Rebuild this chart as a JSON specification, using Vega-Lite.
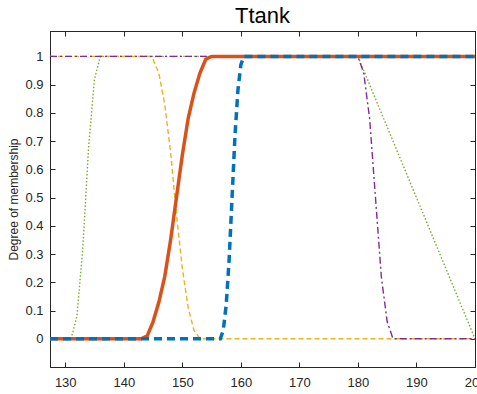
{
  "$schema": "https://vega.github.io/schema/vega-lite/v6.json",
  "width": 425,
  "height": 336,
  "autosize": {"type": "none"},
  "padding": {"left": 50, "top": 31, "right": 2, "bottom": 27},
  "background": "white",
  "title": {
    "text": "Ttank",
    "fontSize": 22,
    "font": "Liberation Sans",
    "fontWeight": "normal",
    "color": "#000000",
    "offset": 3
  },
  "config": {
    "view": {"stroke": "#262626", "strokeWidth": 1},
    "axis": {
      "labelFont": "Liberation Sans",
      "labelFontSize": 13,
      "labelColor": "#262626",
      "titleFont": "Liberation Sans",
      "titleFontSize": 12,
      "titleFontWeight": "normal",
      "titleColor": "#262626",
      "domainColor": "#262626",
      "tickColor": "#262626",
      "tickSize": -5,
      "grid": false,
      "labelOverlap": false,
      "labelFlush": false,
      "labelBound": false
    }
  },
  "data": {
    "values": [
      {"mf": "high", "x": 127.4, "mu": 0},
      {"mf": "high", "x": 156.5, "mu": 0},
      {"mf": "high", "x": 157, "mu": 0.03},
      {"mf": "high", "x": 157.5, "mu": 0.12},
      {"mf": "high", "x": 158, "mu": 0.28},
      {"mf": "high", "x": 158.5, "mu": 0.5},
      {"mf": "high", "x": 159, "mu": 0.72},
      {"mf": "high", "x": 159.5, "mu": 0.88},
      {"mf": "high", "x": 160, "mu": 0.97},
      {"mf": "high", "x": 160.5, "mu": 1},
      {"mf": "high", "x": 200, "mu": 1},

      {"mf": "warm", "x": 127.4, "mu": 0},
      {"mf": "warm", "x": 143, "mu": 0},
      {"mf": "warm", "x": 144, "mu": 0.01},
      {"mf": "warm", "x": 145, "mu": 0.06},
      {"mf": "warm", "x": 146, "mu": 0.13},
      {"mf": "warm", "x": 147, "mu": 0.22},
      {"mf": "warm", "x": 148, "mu": 0.35},
      {"mf": "warm", "x": 149, "mu": 0.5},
      {"mf": "warm", "x": 150, "mu": 0.65},
      {"mf": "warm", "x": 151, "mu": 0.78},
      {"mf": "warm", "x": 152, "mu": 0.87},
      {"mf": "warm", "x": 153, "mu": 0.94},
      {"mf": "warm", "x": 154, "mu": 0.99},
      {"mf": "warm", "x": 155, "mu": 1},
      {"mf": "warm", "x": 200, "mu": 1},

      {"mf": "cold", "x": 127.4, "mu": 1},
      {"mf": "cold", "x": 144.5, "mu": 1},
      {"mf": "cold", "x": 145, "mu": 0.99},
      {"mf": "cold", "x": 146, "mu": 0.94},
      {"mf": "cold", "x": 147, "mu": 0.83},
      {"mf": "cold", "x": 148, "mu": 0.66},
      {"mf": "cold", "x": 149, "mu": 0.44},
      {"mf": "cold", "x": 150, "mu": 0.25},
      {"mf": "cold", "x": 151, "mu": 0.11},
      {"mf": "cold", "x": 152, "mu": 0.03},
      {"mf": "cold", "x": 153, "mu": 0},
      {"mf": "cold", "x": 200, "mu": 0},

      {"mf": "safe", "x": 127.4, "mu": 1},
      {"mf": "safe", "x": 180, "mu": 1},
      {"mf": "safe", "x": 181, "mu": 0.94},
      {"mf": "safe", "x": 182, "mu": 0.78},
      {"mf": "safe", "x": 183, "mu": 0.5},
      {"mf": "safe", "x": 184, "mu": 0.22},
      {"mf": "safe", "x": 185, "mu": 0.06},
      {"mf": "safe", "x": 186, "mu": 0},
      {"mf": "safe", "x": 200, "mu": 0},

      {"mf": "normal", "x": 127.4, "mu": 0},
      {"mf": "normal", "x": 131, "mu": 0},
      {"mf": "normal", "x": 132, "mu": 0.08},
      {"mf": "normal", "x": 133, "mu": 0.32},
      {"mf": "normal", "x": 134, "mu": 0.68},
      {"mf": "normal", "x": 135, "mu": 0.92},
      {"mf": "normal", "x": 136, "mu": 1},
      {"mf": "normal", "x": 180, "mu": 1},
      {"mf": "normal", "x": 200, "mu": 0}
    ]
  },
  "resolve": {"axis": {"x": "independent", "y": "independent"}},
  "layer": [
    {
      "transform": [{"filter": "datum.mf === 'normal'"}],
      "mark": {"type": "line", "color": "#77AC30", "strokeWidth": 1.4, "strokeDash": [1.5, 2], "clip": true},
      "encoding": {
        "x": {
          "field": "x", "type": "quantitative",
          "scale": {"domain": [127.4, 200], "nice": false, "zero": false},
          "axis": {"orient": "bottom", "values": [130, 140, 150, 160, 170, 180, 190, 200], "title": null, "labelPadding": 14}
        },
        "y": {
          "field": "mu", "type": "quantitative",
          "scale": {"domain": [-0.1, 1.09], "nice": false, "zero": false},
          "axis": {
            "orient": "left",
            "values": [0, 0.1, 0.2, 0.3, 0.4, 0.5, 0.6, 0.7, 0.8, 0.9, 1],
            "format": ".1~f",
            "title": "Degree of membership",
            "labelPadding": 12,
            "titlePadding": 4
          }
        }
      }
    },
    {
      "transform": [{"filter": "datum.mf === 'cold'"}],
      "mark": {"type": "line", "color": "#EDB120", "strokeWidth": 1.4, "strokeDash": [5, 3], "clip": true},
      "encoding": {
        "x": {
          "field": "x", "type": "quantitative",
          "axis": {"orient": "top", "values": [130, 140, 150, 160, 170, 180, 190, 200], "labels": false, "title": null}
        },
        "y": {
          "field": "mu", "type": "quantitative",
          "axis": {"orient": "right", "values": [0, 0.1, 0.2, 0.3, 0.4, 0.5, 0.6, 0.7, 0.8, 0.9, 1], "labels": false, "title": null}
        }
      }
    },
    {
      "transform": [{"filter": "datum.mf === 'safe'"}],
      "mark": {"type": "line", "color": "#7E2F8E", "strokeWidth": 1.4, "strokeDash": [7, 3, 2, 3], "clip": true},
      "encoding": {
        "x": {"field": "x", "type": "quantitative", "axis": null},
        "y": {"field": "mu", "type": "quantitative", "axis": null}
      }
    },
    {
      "transform": [{"filter": "datum.mf === 'warm'"}],
      "mark": {"type": "line", "color": "#D95319", "strokeWidth": 3.5, "clip": true},
      "encoding": {
        "x": {"field": "x", "type": "quantitative", "axis": null},
        "y": {"field": "mu", "type": "quantitative", "axis": null}
      }
    },
    {
      "transform": [{"filter": "datum.mf === 'high'"}],
      "mark": {"type": "line", "color": "#0072BD", "strokeWidth": 3.5, "strokeDash": [8, 5], "clip": true},
      "encoding": {
        "x": {"field": "x", "type": "quantitative", "axis": null},
        "y": {"field": "mu", "type": "quantitative", "axis": null}
      }
    }
  ]
}
